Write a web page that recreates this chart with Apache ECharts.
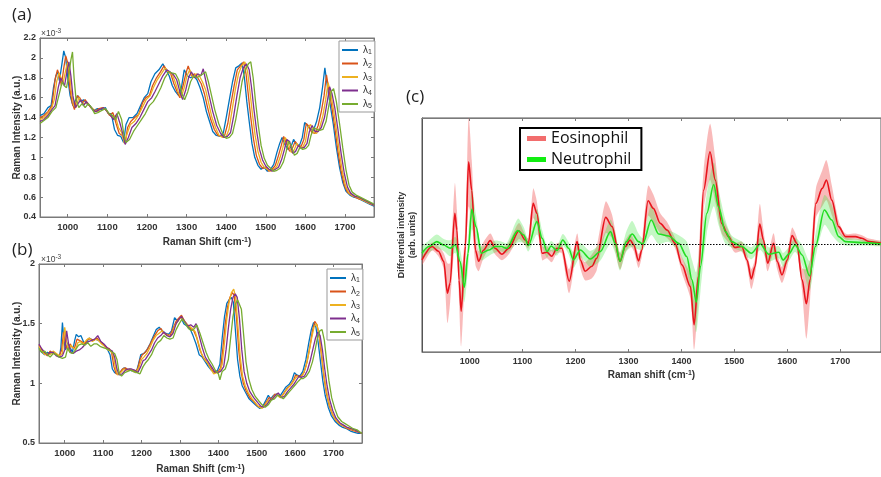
<!DOCTYPE html>
<html><head><meta charset="utf-8">
<script src="https://cdn.jsdelivr.net/npm/echarts@6/dist/echarts.min.js"></script>
<style>html,body{margin:0;padding:0;background:#fff}#c{width:881px;height:477px}</style>
</head><body><div id="c"></div><script>
// ---------- tick labels ----------
const X_TICKS = [1000, 1100, 1200, 1300, 1400, 1500, 1600, 1700];
const SERIES_NAMES = ['λ1', 'λ2', 'λ3', 'λ4', 'λ5'];
const SERIES_COLORS = ['#0072BD', '#D95319', '#EDB120', '#7E2F8E', '#77AC30'];

// ---------- panel (a) : Raman intensity (x1e-3) ----------
const A_L1 = [[930,1.42],[940,1.44],[950,1.50],[958,1.52],[964,1.70],[970,1.82],[975,1.86],[979,1.77],[985,1.93],[990,2.07],[995,2.00],[1000,1.80],[1006,1.62],[1013,1.52],[1020,1.58],[1026,1.62],[1033,1.56],[1040,1.58],[1048,1.54],[1056,1.52],[1065,1.47],[1075,1.49],[1085,1.48],[1095,1.50],[1102,1.44],[1110,1.44],[1118,1.28],[1126,1.22],[1134,1.21],[1141,1.15],[1147,1.33],[1155,1.40],[1165,1.40],[1175,1.44],[1185,1.53],[1193,1.60],[1202,1.64],[1210,1.76],[1220,1.84],[1230,1.88],[1240,1.94],[1248,1.88],[1256,1.82],[1264,1.72],[1272,1.66],[1280,1.62],[1287,1.70],[1294,1.88],[1302,1.82],[1310,1.80],[1318,1.82],[1326,1.78],[1334,1.70],[1342,1.60],[1350,1.46],[1358,1.36],[1366,1.26],[1375,1.22],[1385,1.21],[1393,1.25],[1400,1.40],[1408,1.58],[1416,1.76],[1424,1.90],[1432,1.92],[1440,1.95],[1446,1.80],[1452,1.56],[1458,1.36],[1465,1.14],[1472,1.00],[1480,0.92],[1488,0.88],[1496,0.90],[1504,0.86],[1512,0.88],[1520,0.93],[1528,1.05],[1535,1.14],[1541,1.20],[1548,1.13],[1556,1.08],[1563,1.10],[1570,1.18],[1577,1.13],[1585,1.12],[1592,1.20],[1598,1.35],[1605,1.32],[1612,1.28],[1620,1.27],[1628,1.36],[1636,1.50],[1643,1.70],[1649,1.90],[1655,1.72],[1662,1.54],[1670,1.34],[1678,1.10],[1686,0.90],[1694,0.75],[1702,0.66],[1712,0.62],[1722,0.60],[1732,0.59],[1742,0.57],[1752,0.55],[1762,0.53],[1773,0.51]];
const A_L2 = [[930,1.40],[940,1.42],[950,1.46],[960,1.52],[968,1.78],[974,1.88],[979,1.82],[984,1.72],[990,1.90],[995,2.02],[1000,1.95],[1005,1.70],[1011,1.55],[1017,1.48],[1024,1.62],[1030,1.60],[1037,1.55],[1044,1.58],[1052,1.53],[1060,1.50],[1069,1.46],[1079,1.49],[1089,1.50],[1098,1.47],[1106,1.42],[1114,1.45],[1122,1.34],[1130,1.24],[1138,1.22],[1145,1.14],[1151,1.30],[1159,1.36],[1169,1.40],[1179,1.43],[1189,1.55],[1197,1.60],[1206,1.62],[1214,1.72],[1224,1.80],[1234,1.86],[1243,1.92],[1251,1.87],[1260,1.84],[1268,1.74],[1276,1.66],[1283,1.60],[1291,1.72],[1298,1.84],[1304,1.92],[1312,1.82],[1320,1.84],[1328,1.80],[1337,1.74],[1345,1.64],[1353,1.50],[1361,1.38],[1370,1.28],[1379,1.22],[1388,1.21],[1396,1.22],[1404,1.34],[1412,1.54],[1420,1.72],[1428,1.88],[1436,1.92],[1444,1.96],[1450,1.84],[1456,1.62],[1462,1.40],[1469,1.18],[1476,1.02],[1484,0.93],[1492,0.89],[1500,0.90],[1508,0.86],[1516,0.88],[1524,0.92],[1532,1.02],[1539,1.12],[1545,1.21],[1552,1.14],[1560,1.06],[1567,1.09],[1574,1.16],[1581,1.12],[1589,1.11],[1596,1.18],[1602,1.34],[1609,1.31],[1616,1.25],[1624,1.24],[1632,1.32],[1640,1.46],[1647,1.62],[1653,1.83],[1659,1.68],[1666,1.52],[1674,1.30],[1682,1.06],[1690,0.86],[1698,0.72],[1706,0.65],[1716,0.62],[1726,0.60],[1736,0.58],[1746,0.57],[1756,0.55],[1765,0.53],[1773,0.52]];
const A_L3 = [[930,1.38],[940,1.40],[950,1.44],[960,1.50],[966,1.58],[972,1.76],[978,1.85],[983,1.80],[988,1.74],[994,1.86],[999,1.95],[1004,1.88],[1009,1.66],[1015,1.52],[1021,1.50],[1028,1.60],[1035,1.56],[1042,1.54],[1050,1.55],[1058,1.50],[1066,1.48],[1076,1.46],[1086,1.50],[1096,1.48],[1103,1.44],[1112,1.40],[1120,1.42],[1128,1.30],[1136,1.25],[1143,1.14],[1150,1.24],[1158,1.33],[1168,1.36],[1178,1.42],[1188,1.50],[1198,1.58],[1208,1.62],[1216,1.70],[1226,1.78],[1236,1.84],[1246,1.90],[1254,1.86],[1263,1.84],[1271,1.76],[1279,1.66],[1286,1.60],[1294,1.70],[1301,1.82],[1308,1.88],[1316,1.80],[1324,1.84],[1332,1.82],[1340,1.76],[1348,1.68],[1356,1.54],[1364,1.40],[1373,1.30],[1382,1.22],[1391,1.20],[1399,1.20],[1407,1.28],[1415,1.48],[1423,1.68],[1431,1.84],[1439,1.92],[1447,1.96],[1454,1.86],[1460,1.66],[1466,1.44],[1473,1.22],[1480,1.06],[1488,0.95],[1496,0.90],[1504,0.88],[1512,0.86],[1520,0.88],[1528,0.91],[1536,1.00],[1543,1.10],[1549,1.20],[1556,1.15],[1564,1.05],[1571,1.07],[1578,1.14],[1585,1.10],[1593,1.10],[1600,1.16],[1606,1.30],[1613,1.33],[1620,1.25],[1628,1.24],[1636,1.30],[1644,1.42],[1651,1.58],[1657,1.75],[1663,1.66],[1670,1.50],[1678,1.28],[1686,1.04],[1694,0.84],[1702,0.70],[1710,0.64],[1720,0.61],[1730,0.60],[1740,0.58],[1750,0.56],[1760,0.54],[1773,0.52]];
const A_L4 = [[930,1.36],[940,1.38],[950,1.42],[960,1.48],[968,1.52],[976,1.70],[982,1.80],[987,1.76],[992,1.72],[998,1.86],[1003,1.96],[1008,1.82],[1013,1.62],[1019,1.50],[1026,1.54],[1033,1.58],[1040,1.52],[1047,1.56],[1055,1.52],[1063,1.48],[1071,1.46],[1080,1.48],[1090,1.50],[1100,1.46],[1108,1.42],[1116,1.38],[1124,1.44],[1132,1.34],[1140,1.22],[1145,1.13],[1153,1.20],[1162,1.30],[1172,1.34],[1182,1.40],[1192,1.48],[1202,1.56],[1212,1.60],[1220,1.66],[1230,1.74],[1240,1.82],[1250,1.88],[1258,1.86],[1267,1.83],[1275,1.78],[1283,1.66],[1290,1.58],[1298,1.68],[1305,1.80],[1312,1.86],[1320,1.80],[1328,1.84],[1336,1.82],[1342,1.89],[1350,1.74],[1358,1.60],[1366,1.46],[1376,1.32],[1386,1.24],[1395,1.20],[1403,1.21],[1411,1.25],[1419,1.42],[1427,1.62],[1435,1.80],[1443,1.90],[1451,1.94],[1458,1.88],[1464,1.70],[1470,1.48],[1477,1.26],[1484,1.08],[1492,0.97],[1500,0.91],[1508,0.88],[1516,0.86],[1524,0.88],[1532,0.90],[1540,0.98],[1547,1.08],[1553,1.18],[1560,1.16],[1568,1.04],[1575,1.06],[1582,1.12],[1589,1.09],[1597,1.10],[1604,1.14],[1610,1.26],[1617,1.32],[1624,1.26],[1632,1.26],[1640,1.30],[1648,1.40],[1655,1.56],[1661,1.71],[1667,1.64],[1674,1.50],[1682,1.28],[1690,1.04],[1698,0.84],[1706,0.70],[1714,0.64],[1724,0.61],[1734,0.60],[1744,0.58],[1754,0.56],[1764,0.54],[1773,0.52]];
const A_L5 = [[930,1.34],[940,1.37],[950,1.40],[960,1.46],[970,1.50],[980,1.66],[986,1.76],[991,1.72],[997,1.70],[1003,1.84],[1008,1.98],[1012,2.06],[1016,1.80],[1021,1.58],[1028,1.50],[1036,1.54],[1044,1.50],[1052,1.54],[1060,1.50],[1068,1.44],[1076,1.45],[1085,1.47],[1095,1.49],[1105,1.44],[1113,1.42],[1121,1.38],[1128,1.46],[1136,1.38],[1142,1.22],[1147,1.15],[1156,1.18],[1166,1.26],[1176,1.32],[1186,1.38],[1196,1.44],[1206,1.52],[1216,1.56],[1225,1.62],[1235,1.70],[1245,1.80],[1255,1.86],[1263,1.85],[1272,1.84],[1280,1.78],[1288,1.64],[1295,1.58],[1303,1.66],[1310,1.76],[1318,1.82],[1326,1.80],[1334,1.82],[1342,1.84],[1348,1.86],[1355,1.76],[1363,1.62],[1371,1.48],[1381,1.34],[1391,1.24],[1400,1.19],[1408,1.20],[1416,1.24],[1424,1.38],[1432,1.56],[1440,1.76],[1448,1.88],[1456,1.94],[1462,1.96],[1468,1.80],[1474,1.56],[1481,1.32],[1488,1.12],[1496,0.99],[1504,0.92],[1512,0.89],[1520,0.86],[1528,0.87],[1536,0.89],[1544,0.95],[1551,1.05],[1557,1.16],[1564,1.12],[1572,1.02],[1579,1.04],[1586,1.10],[1593,1.08],[1601,1.09],[1608,1.12],[1614,1.22],[1621,1.30],[1628,1.28],[1636,1.27],[1644,1.28],[1652,1.36],[1659,1.52],[1665,1.66],[1671,1.69],[1678,1.56],[1686,1.34],[1694,1.10],[1702,0.88],[1710,0.72],[1718,0.65],[1728,0.62],[1738,0.60],[1748,0.58],[1758,0.56],[1773,0.53]];

// ---------- panel (b) ----------
const B_L1 = [[933,1.30],[940,1.26],[948,1.24],[955,1.26],[962,1.25],[970,1.26],[978,1.24],[986,1.22],[990,1.30],[994,1.51],[998,1.36],[1002,1.28],[1008,1.34],[1014,1.30],[1020,1.26],[1026,1.36],[1030,1.41],[1036,1.39],[1042,1.40],[1050,1.34],[1058,1.35],[1064,1.38],[1072,1.36],[1080,1.37],[1088,1.36],[1096,1.34],[1104,1.31],[1112,1.28],[1118,1.24],[1124,1.12],[1130,1.09],[1138,1.08],[1146,1.10],[1154,1.13],[1162,1.12],[1170,1.11],[1178,1.10],[1186,1.09],[1192,1.16],[1198,1.24],[1206,1.25],[1214,1.28],[1222,1.33],[1230,1.39],[1238,1.45],[1246,1.47],[1254,1.44],[1262,1.42],[1270,1.41],[1278,1.44],[1286,1.55],[1294,1.52],[1302,1.56],[1310,1.50],[1318,1.48],[1326,1.46],[1334,1.40],[1342,1.33],[1350,1.24],[1358,1.22],[1366,1.18],[1374,1.14],[1382,1.11],[1390,1.09],[1398,1.11],[1404,1.16],[1410,1.38],[1416,1.56],[1422,1.67],[1428,1.70],[1434,1.72],[1439,1.68],[1444,1.46],[1450,1.20],[1456,1.06],[1462,0.98],[1470,0.93],[1480,0.87],[1490,0.84],[1500,0.81],[1508,0.79],[1516,0.81],[1524,0.86],[1530,0.90],[1536,0.87],[1544,0.90],[1552,0.91],[1560,0.89],[1568,0.93],[1576,0.97],[1584,0.99],[1592,1.03],[1598,1.09],[1604,1.07],[1612,1.06],[1620,1.10],[1628,1.20],[1636,1.35],[1642,1.45],[1648,1.51],[1654,1.47],[1660,1.34],[1666,1.18],[1672,1.02],[1678,0.90],[1686,0.80],[1694,0.73],[1704,0.68],[1714,0.65],[1724,0.63],[1734,0.62],[1744,0.60],[1754,0.59],[1764,0.58],[1774,0.58]];
const B_L2 = [[933,1.32],[940,1.28],[948,1.25],[955,1.23],[962,1.27],[970,1.25],[978,1.24],[986,1.23],[992,1.28],[997,1.43],[1002,1.32],[1008,1.28],[1014,1.33],[1020,1.30],[1026,1.30],[1032,1.37],[1038,1.36],[1044,1.35],[1052,1.33],[1060,1.37],[1068,1.37],[1076,1.36],[1084,1.38],[1092,1.35],[1100,1.33],[1108,1.30],[1116,1.29],[1122,1.26],[1128,1.14],[1134,1.08],[1142,1.08],[1150,1.12],[1158,1.13],[1166,1.11],[1174,1.11],[1182,1.10],[1190,1.12],[1196,1.20],[1202,1.24],[1210,1.26],[1218,1.30],[1226,1.35],[1234,1.40],[1242,1.44],[1250,1.46],[1258,1.42],[1266,1.41],[1274,1.40],[1282,1.46],[1290,1.52],[1298,1.55],[1304,1.57],[1312,1.52],[1320,1.49],[1328,1.46],[1336,1.44],[1344,1.38],[1352,1.28],[1360,1.22],[1368,1.19],[1376,1.15],[1384,1.11],[1392,1.09],[1400,1.10],[1406,1.13],[1412,1.30],[1418,1.50],[1424,1.64],[1430,1.72],[1436,1.76],[1441,1.74],[1447,1.56],[1453,1.28],[1459,1.10],[1465,1.00],[1472,0.94],[1482,0.88],[1492,0.85],[1502,0.81],[1510,0.80],[1518,0.81],[1526,0.85],[1532,0.88],[1540,0.87],[1547,0.91],[1555,0.90],[1563,0.88],[1571,0.92],[1579,0.96],[1587,0.98],[1595,1.02],[1601,1.07],[1607,1.06],[1615,1.06],[1623,1.09],[1631,1.18],[1639,1.32],[1645,1.44],[1651,1.52],[1657,1.49],[1663,1.38],[1669,1.22],[1675,1.05],[1681,0.92],[1689,0.81],[1697,0.74],[1706,0.69],[1716,0.66],[1726,0.64],[1736,0.62],[1746,0.61],[1756,0.60],[1766,0.59],[1774,0.58]];
const B_L3 = [[933,1.31],[940,1.27],[948,1.24],[955,1.25],[962,1.24],[970,1.27],[978,1.25],[986,1.23],[994,1.25],[1000,1.47],[1005,1.35],[1010,1.27],[1016,1.32],[1022,1.30],[1028,1.28],[1034,1.34],[1040,1.35],[1048,1.33],[1056,1.36],[1064,1.38],[1072,1.35],[1080,1.37],[1088,1.36],[1096,1.33],[1104,1.31],[1112,1.28],[1120,1.27],[1126,1.24],[1132,1.13],[1138,1.07],[1146,1.09],[1154,1.12],[1162,1.11],[1170,1.12],[1178,1.10],[1186,1.09],[1194,1.14],[1200,1.20],[1206,1.22],[1214,1.25],[1222,1.30],[1230,1.36],[1238,1.40],[1246,1.42],[1254,1.44],[1262,1.41],[1270,1.40],[1278,1.40],[1286,1.48],[1294,1.52],[1302,1.55],[1308,1.54],[1316,1.50],[1324,1.48],[1332,1.46],[1340,1.43],[1348,1.34],[1356,1.25],[1364,1.20],[1372,1.17],[1380,1.12],[1388,1.08],[1396,1.09],[1404,1.10],[1410,1.16],[1416,1.34],[1422,1.54],[1428,1.68],[1434,1.76],[1440,1.79],[1445,1.72],[1451,1.48],[1457,1.22],[1463,1.06],[1470,0.98],[1478,0.92],[1488,0.87],[1498,0.83],[1506,0.80],[1514,0.79],[1522,0.82],[1530,0.86],[1537,0.86],[1545,0.89],[1552,0.91],[1560,0.88],[1568,0.90],[1576,0.94],[1584,0.97],[1592,1.00],[1600,1.04],[1606,1.06],[1612,1.05],[1620,1.07],[1628,1.14],[1636,1.26],[1643,1.38],[1649,1.47],[1655,1.50],[1661,1.44],[1667,1.30],[1673,1.12],[1679,0.98],[1686,0.86],[1694,0.77],[1702,0.71],[1712,0.67],[1722,0.65],[1732,0.63],[1742,0.62],[1752,0.61],[1762,0.60],[1774,0.58]];
const B_L4 = [[933,1.33],[940,1.29],[948,1.26],[955,1.24],[962,1.26],[970,1.26],[978,1.23],[986,1.22],[994,1.23],[1000,1.28],[1005,1.44],[1010,1.33],[1016,1.26],[1022,1.25],[1030,1.27],[1038,1.28],[1046,1.30],[1054,1.33],[1062,1.35],[1070,1.36],[1078,1.37],[1086,1.40],[1094,1.35],[1102,1.33],[1110,1.30],[1118,1.28],[1124,1.27],[1130,1.22],[1136,1.12],[1142,1.07],[1150,1.08],[1158,1.11],[1166,1.12],[1174,1.12],[1182,1.11],[1190,1.09],[1198,1.14],[1204,1.19],[1210,1.20],[1218,1.24],[1226,1.28],[1234,1.34],[1242,1.38],[1250,1.40],[1258,1.43],[1266,1.40],[1274,1.39],[1282,1.42],[1290,1.50],[1298,1.54],[1304,1.56],[1312,1.52],[1320,1.48],[1328,1.49],[1336,1.47],[1342,1.50],[1350,1.40],[1358,1.30],[1366,1.22],[1374,1.18],[1382,1.14],[1390,1.10],[1398,1.09],[1406,1.10],[1414,1.14],[1420,1.28],[1426,1.46],[1432,1.62],[1438,1.72],[1444,1.75],[1449,1.72],[1455,1.54],[1461,1.28],[1467,1.10],[1474,1.00],[1482,0.93],[1492,0.88],[1502,0.84],[1510,0.81],[1518,0.80],[1526,0.82],[1534,0.86],[1541,0.87],[1549,0.90],[1556,0.92],[1564,0.88],[1572,0.89],[1580,0.93],[1588,0.96],[1596,0.99],[1604,1.03],[1610,1.06],[1616,1.05],[1624,1.06],[1632,1.11],[1640,1.20],[1647,1.30],[1653,1.38],[1659,1.43],[1665,1.40],[1671,1.28],[1677,1.12],[1683,0.98],[1690,0.86],[1698,0.77],[1706,0.71],[1716,0.67],[1726,0.65],[1736,0.63],[1746,0.62],[1756,0.61],[1766,0.59],[1774,0.58]];
const B_L5 = [[933,1.29],[940,1.26],[948,1.27],[955,1.24],[962,1.22],[970,1.25],[978,1.24],[986,1.22],[994,1.21],[1002,1.22],[1008,1.30],[1013,1.26],[1020,1.25],[1028,1.28],[1036,1.32],[1044,1.33],[1052,1.32],[1060,1.34],[1068,1.31],[1076,1.33],[1084,1.33],[1092,1.31],[1100,1.30],[1108,1.29],[1116,1.28],[1124,1.26],[1130,1.25],[1136,1.20],[1142,1.08],[1148,1.06],[1156,1.09],[1164,1.10],[1172,1.11],[1180,1.10],[1188,1.09],[1196,1.08],[1204,1.14],[1210,1.17],[1218,1.20],[1226,1.24],[1234,1.30],[1242,1.34],[1250,1.36],[1258,1.40],[1266,1.38],[1274,1.37],[1282,1.38],[1290,1.45],[1298,1.50],[1306,1.54],[1314,1.50],[1322,1.46],[1330,1.44],[1338,1.46],[1344,1.49],[1352,1.42],[1360,1.34],[1368,1.26],[1376,1.20],[1384,1.16],[1392,1.11],[1400,1.08],[1404,1.03],[1410,1.10],[1418,1.12],[1426,1.20],[1432,1.38],[1438,1.56],[1444,1.66],[1450,1.70],[1455,1.71],[1460,1.62],[1466,1.40],[1472,1.18],[1479,1.04],[1487,0.95],[1496,0.89],[1506,0.85],[1514,0.82],[1522,0.80],[1530,0.82],[1538,0.86],[1546,0.87],[1554,0.90],[1561,0.89],[1569,0.87],[1577,0.90],[1585,0.93],[1593,0.96],[1601,0.99],[1609,1.02],[1615,1.04],[1621,1.04],[1629,1.06],[1637,1.10],[1645,1.18],[1652,1.28],[1658,1.38],[1664,1.44],[1670,1.45],[1676,1.36],[1682,1.18],[1688,1.02],[1695,0.88],[1703,0.79],[1711,0.72],[1721,0.68],[1731,0.66],[1741,0.64],[1751,0.62],[1761,0.61],[1774,0.58]];

// ---------- panel (c) : differential intensity ----------
const C_EOS_X  = [910,929,941,951,958,963,972,976,980,984,992,998,1004,1011,1017,1026,1039,1048,1061,1074,1093,1105,1111,1120,1127,1137,1146,1155,1165,1174,1188,1203,1209,1218,1231,1240,1257,1269,1284,1294,1303,1310,1319,1325,1337,1347,1360,1373,1388,1401,1417,1424,1432,1442,1454,1464,1476,1489,1501,1514,1524,1532,1539,1548,1555,1563,1574,1581,1590,1600,1609,1618,1628,1636,1643,1654,1666,1674,1684,1697,1710,1729,1741,1754,1778];
const C_EOS_Y  = [-1.57,-0.23,-0.7,-1.7,-4.9,-3.9,3.1,1.4,-3.6,-6.7,-0.2,8.27,5.4,-0.6,-1.7,-0.6,0.37,-0.4,-1.0,-0.4,1.33,0.43,0.1,4.1,3.1,-0.9,-0.8,-1.2,-0.4,-0.4,-3.7,0.27,-1.57,-2.7,-2.2,-1.4,2.7,1.77,-1.7,-0.23,0.43,-0.07,-1.67,-0.6,4.37,3.6,2.1,1.43,0.1,-2.07,-4.23,-8.07,-3.23,5.43,9.27,6.43,2.1,0.77,-0.33,-0.23,-1.57,-3.47,-2.23,2.03,0.43,-1.9,0.1,-1.73,-3.07,-1.57,0.87,0.1,-3.57,-5.97,-3.57,4.1,5.6,6.43,4.43,1.77,0.77,0.77,0.6,0.27,0.1];
const C_EOS_SD = [0.5,0.4,0.5,0.8,3.0,2.0,3.0,2.0,2.0,3.5,2.0,4.5,3.0,1.5,1.0,0.8,0.7,0.6,0.6,0.6,0.8,0.5,0.5,1.5,1.2,0.7,0.6,0.6,0.5,0.5,1.2,0.8,0.8,0.9,1.2,1.2,1.6,1.2,0.8,0.6,0.6,0.6,0.7,0.7,1.5,1.4,1.0,0.8,0.5,0.8,1.2,2.5,2.0,2.0,2.8,2.2,1.0,0.6,0.5,0.5,0.6,1.0,0.8,2.0,1.0,0.8,1.0,0.8,0.8,0.7,0.8,0.6,1.2,3.5,2.0,1.5,1.8,2.0,1.5,0.6,0.3,0.3,0.3,0.3,0.2];
const C_NEU_X  = [910,923,938,951,963,973,982,990,997,1004,1012,1022,1036,1048,1060,1070,1091,1102,1111,1127,1137,1146,1154,1165,1176,1187,1196,1209,1228,1247,1266,1275,1284,1296,1307,1319,1327,1343,1357,1376,1395,1410,1420,1428,1436,1448,1461,1470,1483,1495,1514,1532,1549,1565,1584,1592,1603,1615,1628,1642,1653,1670,1684,1697,1710,1741,1778];
const C_NEU_Y  = [-0.9,-0.23,0.27,-0.07,-0.4,-0.07,-1.73,-4.3,-0.9,3.5,1.77,-0.9,-0.57,-0.23,-0.23,-0.4,1.37,0.93,-0.13,2.27,0.6,-0.73,-0.17,-0.63,0.43,-0.4,-1.57,-0.57,-1.47,-0.73,1.27,0.1,-1.73,0.27,1.03,0.27,0.03,2.43,1.03,0.83,0.1,-1.23,-3.57,-5.8,-2.23,3.1,6.0,3.77,1.27,0.27,-0.23,-0.9,0.03,-1.0,-0.8,-1.57,-0.97,-0.07,-1.07,-3.17,-0.23,3.43,2.43,0.77,0.27,0.17,0.03];
const C_NEU_SD = [0.6,0.6,0.7,0.6,0.8,0.8,1.2,1.5,1.5,2.0,1.2,0.7,0.6,0.6,0.5,0.5,1.2,0.8,0.6,1.3,0.8,0.6,0.5,0.5,0.6,0.6,0.8,0.7,0.8,0.9,1.2,1.0,0.9,1.0,1.3,0.8,0.6,1.5,1.0,0.6,0.8,1.5,2.0,3.0,2.5,2.0,2.2,1.8,1.2,0.6,0.5,0.6,0.6,0.7,0.6,0.7,0.7,0.7,1.0,1.5,1.2,1.5,1.5,0.6,0.4,0.3,0.2];

// ---------- build options ----------
const FONT = '"Liberation Sans", Arial, sans-serif';
const LBL = {fontFamily: FONT, fontWeight: 'bold', fontSize: 9, color: '#333'};
const FRAME = '#7a7a7a';
const plain = v => String(v);

function bottomX(gi, min, max, name, gap, fs, margin) {
  return {
    gridIndex: gi, type: 'value', position: 'bottom', min, max,
    axisLine: {show: true, onZero: false, lineStyle: {color: FRAME}},
    axisTick: {show: true, inside: true, length: 3, customValues: X_TICKS, lineStyle: {color: FRAME}},
    axisLabel: Object.assign({customValues: X_TICKS, margin, formatter: plain}, LBL, {fontSize: fs}),
    splitLine: {show: false},
    name, nameLocation: 'middle', nameGap: gap, nameMoveOverlap: false,
    nameTextStyle: {fontFamily: FONT, fontWeight: 'bold', fontSize: 10, color: '#333',
      rich: {sup: {fontFamily: FONT, fontWeight: 'bold', fontSize: 7, color: '#333', verticalAlign: 'top', lineHeight: 9}}}
  };
}
function topX(gi, min, max) {
  return {
    gridIndex: gi, type: 'value', position: 'top', min, max,
    axisLine: {show: true, onZero: false, lineStyle: {color: FRAME}},
    axisTick: {show: true, inside: true, length: 3, customValues: X_TICKS, lineStyle: {color: FRAME}},
    axisLabel: {show: false}, splitLine: {show: false}
  };
}
const xAxes = [
  bottomX(0, 930, 1773, 'Raman Shift (cm{sup|-1})', 20, 9.5, 5),
  topX(0, 930, 1773),
  bottomX(1, 933, 1774, 'Raman Shift (cm{sup|-1})', 21, 9.5, 5),
  topX(1, 933, 1774),
  bottomX(2, 910, 1777, 'Raman shift (cm{sup|-1})', 18, 9, 5),
  topX(2, 910, 1777)
];

function leftY(gi, min, max, interval, name, gap) {
  return {
    gridIndex: gi, type: 'value', position: 'left', min, max, interval,
    axisLine: {show: true, onZero: false, lineStyle: {color: FRAME}},
    axisTick: {show: true, inside: true, length: 3, lineStyle: {color: FRAME}},
    axisLabel: Object.assign({margin: 4}, LBL),
    splitLine: {show: false},
    name, nameLocation: 'middle', nameGap: gap, nameMoveOverlap: false,
    nameTextStyle: {fontFamily: FONT, fontWeight: 'bold', fontSize: 10, color: '#333'}
  };
}
function rightY(gi, min, max, interval) {
  return {
    gridIndex: gi, type: 'value', position: 'right', min, max, interval,
    axisLine: {show: true, onZero: false, lineStyle: {color: FRAME}},
    axisTick: {show: true, inside: true, length: 3, lineStyle: {color: FRAME}},
    axisLabel: {show: false}, splitLine: {show: false}
  };
}
const yAxes = [
  leftY(0, 0.4, 2.2, 0.2, 'Raman Intensity (a.u.)', 17.5),
  rightY(0, 0.4, 2.2, 0.2),
  leftY(1, 0.5, 2, 0.5, 'Raman Intensity (a.u.)', 16.5),
  rightY(1, 0.5, 2, 0.5),
  {
    gridIndex: 2, type: 'value', min: -10.8, max: 12.66,
    axisLine: {show: true, onZero: false, lineStyle: {color: '#555'}},
    axisTick: {show: false}, axisLabel: {show: false}, splitLine: {show: false},
    name: 'Differential intensity\n(arb. units)', nameLocation: 'middle', nameGap: 4, nameMoveOverlap: false,
    nameTextStyle: {fontFamily: FONT, fontWeight: 'bold', fontSize: 9, color: '#333', lineHeight: 11}
  }
];

const series = [];
const A_ALL = [A_L1, A_L2, A_L3, A_L4, A_L5];
const B_ALL = [B_L1, B_L2, B_L3, B_L4, B_L5];
A_ALL.forEach((d, i) => series.push({
  name: SERIES_NAMES[i], type: 'line', xAxisIndex: 0, yAxisIndex: 0, data: d,
  symbol: 'none', lineStyle: {width: 1.3, color: SERIES_COLORS[i]}, itemStyle: {color: SERIES_COLORS[i]}
}));
B_ALL.forEach((d, i) => series.push({
  name: SERIES_NAMES[i], type: 'line', xAxisIndex: 2, yAxisIndex: 2, data: d,
  symbol: 'none', lineStyle: {width: 1.3, color: SERIES_COLORS[i]}, itemStyle: {color: SERIES_COLORS[i]}
}));

// shaded bands: polygon through library coordinates
function bandSeries(X, Y, SD, fill) {
  return {
    type: 'custom', xAxisIndex: 4, yAxisIndex: 4, silent: true, clip: true, z: 1,
    data: X.map((x, i) => [x, Y[i] - SD[i], Y[i] + SD[i]]),
    encode: {x: 0, y: [1, 2]},
    renderItem: (params, api) => {
      if (params.dataIndex !== 0) return null;
      const up = [], dn = [];
      for (let i = 0; i < X.length; i++) {
        up.push(api.coord([X[i], Y[i] + SD[i]]));
        dn.push(api.coord([X[i], Y[i] - SD[i]]));
      }
      return {type: 'polygon', shape: {points: up.concat(dn.reverse()), smooth: 0.25}, style: {fill}};
    }
  };
}
series.push(bandSeries(C_EOS_X, C_EOS_Y, C_EOS_SD, 'rgba(240,90,90,0.42)'));
series.push(bandSeries(C_NEU_X, C_NEU_Y, C_NEU_SD, 'rgba(70,230,70,0.32)'));

series.push({
  name: 'Eosinophil', type: 'line', xAxisIndex: 4, yAxisIndex: 4, z: 3,
  data: C_EOS_X.map((x, i) => [x, C_EOS_Y[i]]), symbol: 'none', smooth: 0.3, smoothMonotone: 'x',
  lineStyle: {width: 1.6, color: '#e8141c'}, itemStyle: {color: '#f26d6d'},
  markLine: {silent: true, symbol: 'none', label: {show: false}, animation: false,
    lineStyle: {type: [1.5, 1.5], color: '#000', width: 1}, data: [{yAxis: 0}]}
});
series.push({
  name: 'Neutrophil', type: 'line', xAxisIndex: 4, yAxisIndex: 4, z: 4,
  data: C_NEU_X.map((x, i) => [x, C_NEU_Y[i]]), symbol: 'none', smooth: 0.3, smoothMonotone: 'x',
  lineStyle: {width: 1.6, color: '#22dd22'}, itemStyle: {color: '#11ee11'}
});

const lamLegend = (left, top) => ({
  orient: 'vertical', left, top, data: SERIES_NAMES, icon: 'rect', itemWidth: 16, itemHeight: 2,
  itemGap: 1.5, padding: [3, 3, 2, 3], backgroundColor: '#fff', borderColor: '#999', borderWidth: 1,
  selectedMode: false,
  formatter: n => 'λ{s|' + n.slice(1) + '}',
  textStyle: {fontFamily: FONT, fontSize: 10, color: '#333', lineHeight: 12,
    rich: {s: {fontFamily: FONT, fontSize: 7, color: '#333', verticalAlign: 'bottom', lineHeight: 12, padding: [4, 0, 0, 0]}}}
});

const option = {
  animation: false,
  backgroundColor: '#fff',
  grid: [
    {left: 40, top: 38, width: 334, height: 179, show: true, borderColor: FRAME, borderWidth: 1},
    {left: 39, top: 264, width: 323, height: 179, show: true, borderColor: FRAME, borderWidth: 1},
    {left: 422, top: 118, width: 459, height: 234, show: true, borderColor: '#555', borderWidth: 1}
  ],
  xAxis: xAxes,
  yAxis: yAxes,
  legend: [
    lamLegend(339, 41),
    lamLegend(327, 269),
    {
      orient: 'vertical', left: 520, top: 128, selectedMode: false,
      data: [{name: 'Eosinophil', itemStyle: {color: '#f26d6d'}}, {name: 'Neutrophil', itemStyle: {color: '#11ee11'}}],
      icon: 'rect', itemWidth: 19, itemHeight: 5, itemGap: 4, padding: [2, 10, 2, 7],
      backgroundColor: '#fff', borderColor: '#000', borderWidth: 2,
      textStyle: {fontFamily: '"Open Sans", "Noto Sans", sans-serif', fontSize: 16, color: '#111', lineHeight: 17}
    }
  ],
  graphic: [
    {type: 'text', left: 12, top: 7, style: {text: '(a)', fontFamily: '"Open Sans", sans-serif', fontSize: 17, fill: '#222'}},
    {type: 'text', left: 12, top: 242, style: {text: '(b)', fontFamily: '"Open Sans", sans-serif', fontSize: 17, fill: '#222'}},
    {type: 'text', left: 406, top: 89, style: {text: '(c)', fontFamily: '"Open Sans", sans-serif', fontSize: 17, fill: '#222'}},
    {type: 'text', left: 41, top: 28, style: {text: '×10{s|-3}', fontFamily: FONT, fontSize: 8.5, fill: '#444',
      rich: {s: {fontFamily: FONT, fontSize: 6.5, fill: '#444', verticalAlign: 'top', padding: [0, 0, 4, 0]}}}},
    {type: 'text', left: 41, top: 254, style: {text: '×10{s|-3}', fontFamily: FONT, fontSize: 8.5, fill: '#444',
      rich: {s: {fontFamily: FONT, fontSize: 6.5, fill: '#444', verticalAlign: 'top', padding: [0, 0, 4, 0]}}}}
  ],
  series
};
const chart = echarts.init(document.getElementById('c'), null, {renderer: 'canvas'});
chart.setOption(option);
</script></body></html>
